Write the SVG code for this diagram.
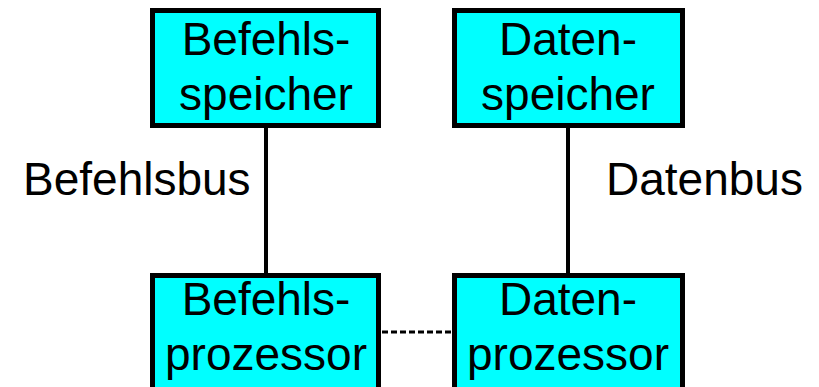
<svg xmlns="http://www.w3.org/2000/svg" width="819" height="387" viewBox="0 0 819 387">
  <style>
    .box { fill: #00FFFF; stroke: #000; stroke-width: 5; }
    .lbl { font-family: "Liberation Sans", Arial, sans-serif; font-size: 46px; fill: #000; }
    .mid { text-anchor: middle; }
    .bus { stroke: #000; stroke-width: 4; fill: none; }
    .ctl { stroke: #000; stroke-width: 3; stroke-dasharray: 6 3; fill: none; }
  </style>
  <rect width="819" height="387" fill="#fff"/>

  <g id="connectors">
    <line class="bus" x1="266" y1="126" x2="266" y2="275"/>
    <line class="bus" x1="568" y1="126" x2="568" y2="275"/>
    <line class="ctl" x1="382" y1="332" x2="452" y2="332"/>
    <text class="lbl" x="23" y="195">Befehlsbus</text>
    <text class="lbl" x="606" y="195">Datenbus</text>
  </g>

  <g id="befehlsspeicher">
    <rect class="box" x="152.5" y="10.5" width="226" height="115"/>
    <text class="lbl mid" x="266" y="55">Befehls-</text>
    <text class="lbl mid" x="266" y="110">speicher</text>
  </g>

  <g id="datenspeicher">
    <rect class="box" x="454.5" y="10.5" width="228" height="115"/>
    <text class="lbl mid" x="568" y="55">Daten-</text>
    <text class="lbl mid" x="568" y="110">speicher</text>
  </g>

  <g id="befehlsprozessor">
    <rect class="box" x="152.5" y="275.5" width="226" height="120"/>
    <text class="lbl mid" x="266" y="315">Befehls-</text>
    <text class="lbl mid" x="266" y="370">prozessor</text>
  </g>

  <g id="datenprozessor">
    <rect class="box" x="454.5" y="275.5" width="228" height="120"/>
    <text class="lbl mid" x="568" y="315">Daten-</text>
    <text class="lbl mid" x="568" y="370">prozessor</text>
  </g>
</svg>
